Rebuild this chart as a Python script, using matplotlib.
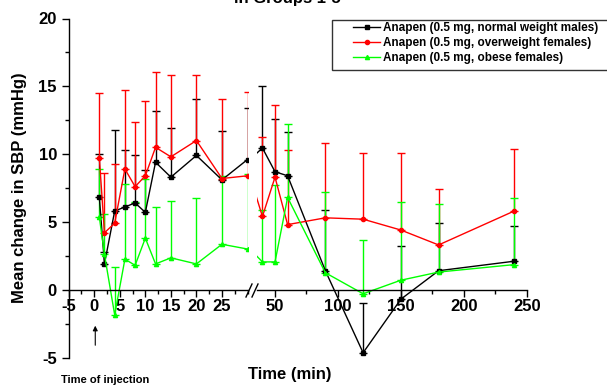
import numpy as np
import matplotlib
matplotlib.use('Agg')
import matplotlib.pyplot as plt
from matplotlib.lines import Line2D
from matplotlib.patches import Rectangle
from matplotlib.ticker import MultipleLocator, FixedLocator

plt.rcParams['font.family'] = ['Liberation Sans', 'DejaVu Sans']
plt.rcParams['font.weight'] = 'bold'
plt.rcParams['axes.unicode_minus'] = False

# time points (min) and mean change in SBP, with upper end of the error bar
time = [1, 2, 4, 6, 8, 10, 12, 15, 20, 25, 30, 40, 50, 60, 90, 120, 150, 180, 240]

black = [6.8, 1.9, 5.8, 6.1, 6.4, 5.7, 9.4, 8.3, 9.9, 8.1, 9.6, 10.45, 8.7, 8.4, 1.4, -4.65, -0.7, 1.4, 2.1]
black_up = [10.0, 2.75, 11.75, 10.3, 9.9, 8.85, 13.2, 11.9, 14.1, 11.7, 13.4, 15.0, 12.6, 11.6, 5.9, -0.95, 3.2, 4.9, 4.7]

red = [9.7, 4.2, 4.9, 8.9, 7.6, 8.4, 10.5, 9.8, 11.0, 8.2, 8.4, 5.4, 8.3, 4.8, 5.3, 5.2, 4.4, 3.3, 5.8]
red_up = [14.5, 8.6, 9.3, 14.75, 12.35, 13.9, 16.05, 15.8, 15.85, 14.1, 14.6, 11.25, 13.6, 10.3, 10.8, 10.05, 10.05, 7.4, 10.4]

green = [5.35, 2.6, -1.85, 2.25, 1.8, 3.8, 1.9, 2.35, 1.9, 3.35, 3.0, 2.05, 2.05, 6.8, 1.25, -0.3, 0.7, 1.3, 1.85]
green_up = [8.9, 5.6, 1.7, 7.8, 6.5, 8.2, 6.1, 6.55, 6.75, 8.35, 8.55, 5.9, 7.75, 12.2, 7.2, 3.7, 6.5, 6.3, 6.75]

labels = ['Anapen (0.5 mg, normal weight males)',
          'Anapen (0.5 mg, overweight females)',
          'Anapen (0.5 mg, obese females)']

series = [(black, black_up, 'black', 's'),
          (red, red_up, '#ff0000', 'o'),
          (green, green_up, '#00ff00', '^')]

W, H = 607, 385
fig = plt.figure(figsize=(W / 100, H / 100), dpi=100)

def fx(px):
    return px / W

def fy(py):
    return 1 - py / H

y_top, y_bot = 18.5, 357.5
ax1 = fig.add_axes([fx(68.7), fy(y_bot), fx(247.5 - 68.7), (y_bot - y_top) / H])
ax2 = fig.add_axes([fx(257.4), fy(y_bot), fx(526.7 - 257.4), (y_bot - y_top) / H])

for ax in (ax1, ax2):
    for vals, ups, col, mk in series:
        v = np.array(vals)
        err = np.array(ups) - v
        ax.errorbar(time, v, yerr=[np.zeros_like(err), err], color=col, marker=mk,
                    markersize=3, linewidth=1.0, elinewidth=1.0, capsize=2.8, capthick=1.0)
    ax.set_ylim(-5, 20)
    ax.patch.set_alpha(0)
    ax.spines['top'].set_visible(False)
    ax.spines['right'].set_visible(False)
    ax.spines['bottom'].set_position(('data', 0))
    ax.spines['bottom'].set_linewidth(1.0)
    ax.tick_params(axis='x', which='major', direction='out', length=5, width=1, labelsize=12, pad=2)
    ax.tick_params(axis='x', which='minor', direction='out', length=3, width=1)

ax1.set_xlim(-5, 30)
ax1.xaxis.set_major_locator(FixedLocator([-5, 0, 5, 10, 15, 20, 25]))
ax1.xaxis.set_minor_locator(FixedLocator([-2.5, 2.5, 7.5, 12.5, 17.5, 22.5, 27.5, 30]))
ax1.yaxis.set_major_locator(MultipleLocator(5))
ax1.yaxis.set_minor_locator(MultipleLocator(2.5))
ax1.tick_params(axis='y', which='major', direction='out', length=5, width=1, labelsize=12)
ax1.tick_params(axis='y', which='minor', direction='out', length=3, width=1)
ax1.spines['left'].set_linewidth(1.0)
ax1.set_ylabel('Mean change in SBP (mmHg)', fontsize=12, fontweight='bold', labelpad=8)

ax2.set_xlim(36, 250)
ax2.xaxis.set_major_locator(FixedLocator([50, 100, 150, 200, 250]))
ax2.xaxis.set_minor_locator(FixedLocator([75, 125, 175, 225]))
ax2.spines['left'].set_visible(False)
ax2.set_yticks([])

for lab in ax1.get_xticklabels() + ax1.get_yticklabels() + ax2.get_xticklabels():
    lab.set_fontweight('bold')

# axis break marks
for x0 in (246, 252):
    fig.add_artist(Line2D([fx(x0), fx(x0 + 6)], [fy(297), fy(284)], color='black', linewidth=1.0))

# title (cut off at the top in the original)
fig.text(fx(287), fy(3), 'in Groups 1-5', ha='center', va='baseline', fontsize=12, fontweight='bold')
fig.text(fx(290), fy(374), 'Time (min)', ha='center', va='center', fontsize=12, fontweight='bold')
fig.text(fx(105), fy(380), 'Time of injection', ha='center', va='center', fontsize=8, fontweight='bold')

# injection arrow
ax1.annotate('', xy=(0.2, -2.45), xytext=(0.2, -4.3),
             arrowprops=dict(arrowstyle='-|>', color='black', lw=0.8, mutation_scale=7))

# legend with a plain box that runs off the right edge
fig.add_artist(Rectangle((fx(332), fy(70)), fx(620 - 332), (70 - 20) / H, transform=fig.transFigure,
                         facecolor='white', edgecolor='#333333', linewidth=1.0, zorder=5))
handles = [Line2D([], [], color=c, marker=m, markersize=3, linewidth=1.0) for _, _, c, m in series]
leg = fig.legend(handles, labels, loc='upper left', bbox_to_anchor=(fx(353), fy(22)),
                 frameon=False, fontsize=8.5, borderpad=0, borderaxespad=0,
                 handlelength=2.3, handletextpad=0.25, labelspacing=0.25)
leg.set_zorder(6)
for t in leg.get_texts():
    t.set_fontweight('bold')

fig.savefig('out.png', dpi=100)
